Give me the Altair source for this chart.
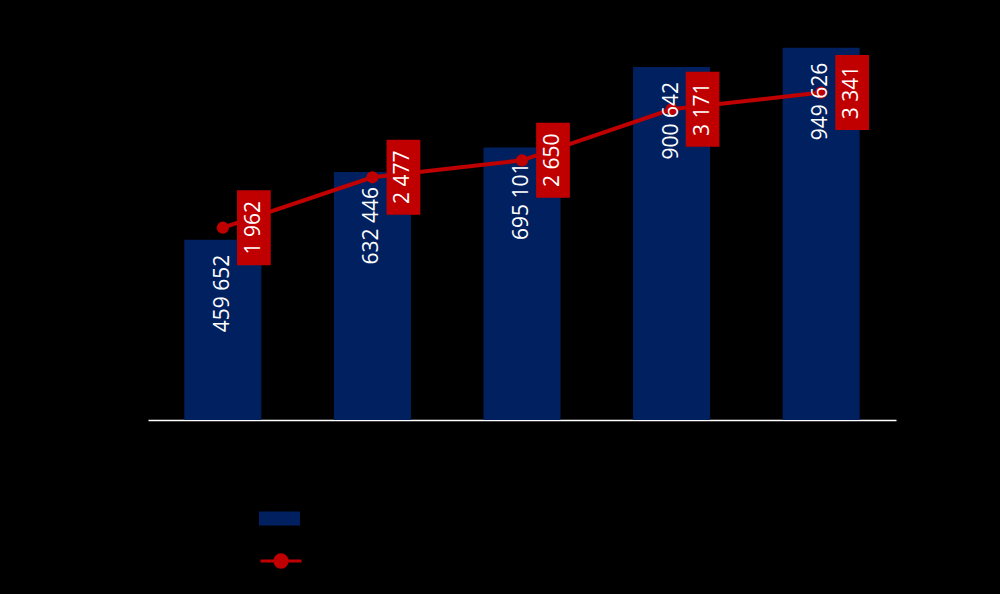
import altair as alt
import pandas as pd

categories = ["Category 1", "Category 2", "Category 3", "Category 4", "Category 5"]
bar_values = [459652, 632446, 695101, 900642, 949626]
line_values = [1962, 2477, 2650, 3171, 3341]
bar_series = "Series 1"
line_series = "Series 2"

def fmt(v):
    return f"{v:,}".replace(",", " ")

df = pd.DataFrame({
    "cat": categories,
    "bar": bar_values,
    "line": line_values,
    "bar_label": [fmt(v) for v in bar_values],
    "line_label": [fmt(v) for v in line_values],
    "bs": [bar_series] * 5,
    "ls": [line_series] * 5,
})

NAVY = "#002060"
RED = "#C00000"

x = alt.X("cat:N", sort=categories,
          scale=alt.Scale(paddingInner=0.485, paddingOuter=0.243),
          axis=alt.Axis(title=None, labelColor="black", ticks=False,
                        domainColor="white", domainWidth=1.5, labelAngle=0,
                        labelFontSize=16))

y_bar = alt.Y("bar:Q", scale=alt.Scale(domain=[0, 1000000]), axis=None)
y_line = alt.Y("line:Q", scale=alt.Scale(domain=[0, 4000]), axis=None)

base = alt.Chart(df)

bars = base.mark_bar().encode(
    x=x, y=y_bar,
    fill=alt.Fill("bs:N", scale=alt.Scale(range=[NAVY]),
                  legend=alt.Legend(title=None, orient="none", legendX=111, legendY=470,
                                    symbolType="M-1,-0.34H1V0.34H-1Z", symbolSize=1681,
                                    symbolStrokeWidth=0, labelColor="black",
                                    labelFontSize=16)),
)

bar_text = base.mark_text(angle=270, align="right", baseline="middle", dx=-15,
                          color="white", fontSize=21, font="Open Sans").encode(
    x=x, y=y_bar, text="bar_label:N")

line = base.mark_line(strokeWidth=4).encode(
    x=x, y=y_line,
    stroke=alt.Stroke("ls:N", scale=alt.Scale(range=[RED]),
                      legend=alt.Legend(title=None, orient="none", legendX=111, legendY=511,
                                        symbolType="M-1,0H1M-0.3,0A0.3,0.3 0 1,0 0.3,0A0.3,0.3 0 1,0 -0.3,0",
                                        symbolSize=1681, symbolStrokeWidth=3,
                                        symbolFillColor=RED, labelColor="black",
                                        labelFontSize=16)),
)

points = base.mark_circle(size=150, color=RED, opacity=1).encode(x=x, y=y_line)

boxes = base.mark_point(shape="M-0.45,-1H0.45V1H-0.45Z", size=5625, filled=True,
                        color=RED, opacity=1, xOffset=31, strokeWidth=0).encode(x=x, y=y_line)

line_text = base.mark_text(angle=270, align="center", baseline="middle", dy=31,
                           color="white", fontSize=21, font="Open Sans").encode(
    x=x, y=y_line, text="line_label:N")

chart = alt.layer(bars, line, points, bar_text, boxes, line_text).resolve_scale(
    y="independent"
).properties(
    width=748, height=392,
    background="black",
    padding={"left": 148, "top": 28, "right": 104, "bottom": 174},
    autosize=alt.AutoSizeParams(type="none"),
).configure_view(stroke=None)

chart.save("out.html", embed_options={"renderer": "svg", "actions": False})
